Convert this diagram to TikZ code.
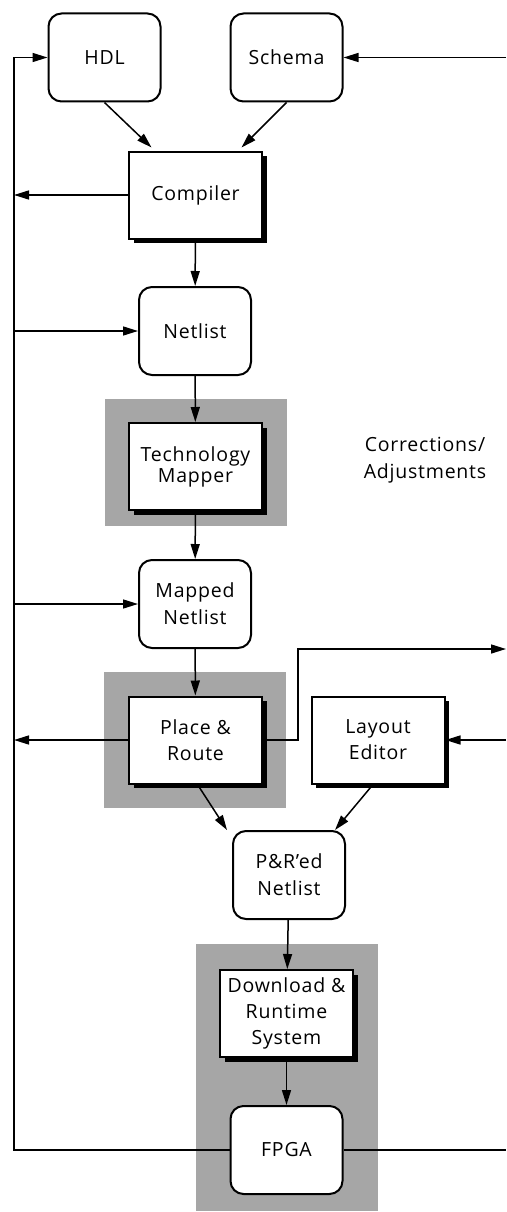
\documentclass[tikz,border=0pt]{standalone}
\usepackage{fontspec}
\setmainfont[LetterSpace=4]{Open Sans}
\usepackage{tikz}
\usetikzlibrary{arrows.meta}
\usetikzlibrary{shadows}

\tikzset{
    flowline/.style = {line width = 1.5pt},
    flowarrow/.style = {line width = 1.5pt, -{Triangle[length = 15pt, width = 9pt]}},
    roundbox/.style = {draw, line width = 2pt, rounded corners = 13pt, fill = white,
        minimum width = 112pt, minimum height = 88pt, align = center,
        font = \fontsize{19.5}{27}\selectfont},
    toolbox/.style = {draw, line width = 2pt, fill = white,
        minimum width = 133pt, minimum height = 87pt, align = center,
        font = \fontsize{19.5}{26}\selectfont,
        drop shadow = {shadow xshift = 4.5pt, shadow yshift = -4.5pt, opacity = 1, fill = black}},
    graybg/.style = {fill = black!35}
}

\begin{document}
\begin{tikzpicture}[x = 1pt, y = -1pt]
        \useasboundingbox (0, 0) rectangle (506, 1212);

        % gray backgrounds
        \fill[graybg] (105, 399) rectangle (287, 526);
        \fill[graybg] (104, 672) rectangle (286, 808);
        \fill[graybg] (196, 944) rectangle (378, 1211);

        % the two buses
        \coordinate (bus) at (14, 0);
        \coordinate (edge) at (506, 0);

        \node[roundbox] (hdl) at (104.5, 57.5) {HDL};
        \node[roundbox] (schema) at (286.5, 57.5) {Schema};
        \node[toolbox] (compiler) at (195.5, 195) {Compiler};
        \node[roundbox] (netlist) at (195, 331) {Netlist};
        \node[toolbox, font = \fontsize{19.5}{21}\selectfont] (mapper) at (195.5, 466.5)
            {Technology\\Mapper};
        \node[roundbox] (mapped) at (195, 604) {Mapped\\Netlist};
        \node[toolbox] (pnr) at (195.5, 740) {Place \&\\Route};
        \node[toolbox] (layout) at (378, 740) {Layout\\Editor};
        \node[roundbox] (pnred) at (289, 875) {P\&R'ed\\Netlist};
        \node[toolbox] (download) at (286.5, 1013.5) {Download \&\\Runtime\\System};
        \node[roundbox] (fpga) at (286.5, 1150) {FPGA};

        \node[align = center, font = \fontsize{19.5}{27}\selectfont] (corr) at (425, 460)
            {Corrections/\\Adjustments};

        % design flow
        \draw[flowarrow] (hdl.south) -- ([xshift = -44pt, yshift = 3pt]compiler.north);
        \draw[flowarrow] (schema.south) -- ([xshift = 46pt, yshift = 3pt]compiler.north);
        \draw[flowarrow] (compiler) -- (netlist);
        \draw[flowarrow] (netlist) -- (mapper);
        \draw[flowarrow] (mapper) -- (mapped);
        \draw[flowarrow] (mapped) -- (pnr);
        \draw[flowarrow] ([xshift = 2pt]pnr.south) -- ([xshift = -62pt]pnred.north);
        \draw[flowarrow] ([xshift = -5pt]layout.south) -- ([xshift = 46pt]pnred.north);
        \draw[flowarrow] (pnred) -- (download);
        \draw[flowarrow] (download) -- (fpga);

        % left bus
        \draw[flowarrow] (fpga.west) -- (fpga.west -| bus) -- (hdl.west -| bus) -- (hdl.west);
        \draw[flowarrow] (compiler.west) -- (compiler.west -| bus);
        \draw[flowarrow] (netlist.west -| bus) -- (netlist.west);
        \draw[flowarrow] (mapped.west -| bus) -- (mapped.west);
        \draw[flowarrow] (pnr.west) -- (pnr.west -| bus);

        % right bus
        \coordinate (pnrout) at (298, 649);
        \draw[flowarrow] (schema.east -| edge) -- (schema.east);
        \draw[flowarrow] (layout.east -| edge) -- (layout.east);
        \draw[flowarrow] (pnr.east) -| (pnrout) -- (pnrout -| edge);
        \draw[flowline] (fpga.east) -- (fpga.east -| edge);
    \end{tikzpicture}
\end{document}
